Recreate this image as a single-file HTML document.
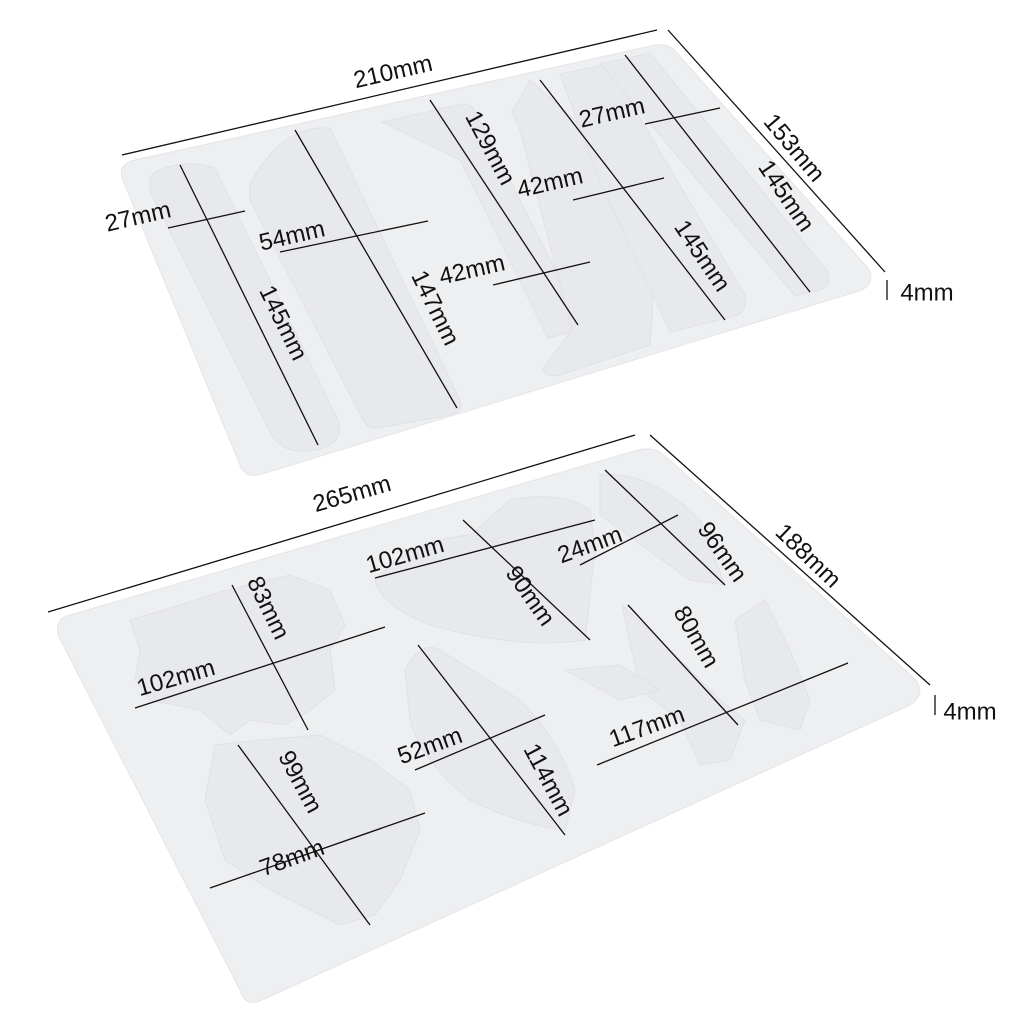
<!DOCTYPE html>
<html><head><meta charset="utf-8"><style>
html,body{margin:0;padding:0;background:#fff;}
svg{display:block}
text{font-family:"Liberation Sans",sans-serif;font-size:24px;fill:#111;text-anchor:middle;dominant-baseline:central;}
</style></head><body>
<svg width="1024" height="1024" viewBox="0 0 1024 1024" xmlns="http://www.w3.org/2000/svg">
<path d="M135,160 L655,45 Q668,43 676,52 L868,268 Q876,282 862,290 L262,474 Q245,479 240,465 L122,178 Q118,164 135,160 Z" fill="#eeeff1" stroke="#e4e5e8"/>
<g fill="#e8e9ec" stroke="#e0e1e4">
<path d="M155,172 Q185,158 215,168 L338,420 Q345,445 315,450 Q282,456 270,432 L152,195 Q146,178 155,172 Z"/>
<path d="M250,185 Q280,125 330,128 L460,400 Q465,412 450,415 L378,428 Q368,430 362,418 L250,200 Z"/>
<path d="M382,122 L462,104 Q470,103 474,110 L580,318 Q583,330 570,332 L548,338 L460,160 Z"/>
<path d="M512,112 L530,80 L625,165 L658,230 L650,345 L560,375 Q545,378 543,368 L572,330 L520,130 Z"/>
<path d="M560,74 L608,64 L745,295 Q748,312 735,316 L670,332 L600,182 Z"/>
<path d="M600,64 L650,53 L828,272 Q832,285 820,290 L795,296 Z"/>
</g>
<path d="M70,615 L638,450 Q655,446 665,456 L916,680 Q926,695 910,705 L262,1000 Q245,1008 240,990 L58,635 Q55,618 70,615 Z" fill="#eeeff1" stroke="#e4e5e8"/>
<g fill="#e8e9ec" stroke="#e0e1e4">
<path d="M130,620 L180,605 L220,592 L290,575 L330,590 L345,625 L330,650 L335,690 L310,710 L285,725 L250,720 L230,735 L200,710 L150,700 L135,680 L140,650 Z"/>
<path d="M375,580 Q410,540 470,535 L510,500 Q560,490 590,510 L595,550 L585,640 Q520,650 430,625 Q380,605 375,580 Z"/>
<path d="M600,475 Q650,470 700,520 L725,585 L690,580 L600,515 Z"/>
<path d="M405,670 Q420,640 440,650 L520,700 Q560,740 575,790 L565,830 Q520,825 470,800 Q420,760 410,720 Z"/>
<path d="M215,745 L260,740 L320,735 L370,760 L410,790 L420,830 L400,880 L375,915 L340,925 L270,890 L225,860 L205,800 Z"/>
<path d="M622,605 L660,640 L720,700 L745,720 L730,760 L700,765 L680,720 L640,690 Z"/>
<path d="M735,620 L765,600 L790,650 L810,700 L800,730 L760,720 L745,680 Z"/>
<path d="M565,670 L620,665 L660,690 L620,700 Z"/>
</g>
<g stroke="#111" stroke-width="1.3" fill="none">
<line x1="122" y1="155" x2="657" y2="30"/>
<line x1="668" y1="30" x2="885" y2="272"/>
<line x1="887" y1="280" x2="887" y2="300"/>
<line x1="180" y1="165" x2="318" y2="445"/>
<line x1="168" y1="228" x2="245" y2="211"/>
<line x1="280" y1="252" x2="428" y2="221"/>
<line x1="295" y1="130" x2="457" y2="408"/>
<line x1="430" y1="100" x2="578" y2="325"/>
<line x1="493" y1="285" x2="590" y2="262"/>
<line x1="573" y1="200" x2="664" y2="178"/>
<line x1="540" y1="80" x2="725" y2="320"/>
<line x1="645" y1="124" x2="720" y2="108"/>
<line x1="625" y1="55" x2="810" y2="292"/>
<line x1="48" y1="612" x2="635" y2="435"/>
<line x1="650" y1="435" x2="930" y2="685"/>
<line x1="935" y1="695" x2="935" y2="715"/>
<line x1="135" y1="708" x2="385" y2="627"/>
<line x1="232" y1="585" x2="308" y2="730"/>
<line x1="238" y1="745" x2="370" y2="925"/>
<line x1="210" y1="888" x2="425" y2="813"/>
<line x1="375" y1="578" x2="595" y2="520"/>
<line x1="463" y1="520" x2="590" y2="640"/>
<line x1="580" y1="565" x2="678" y2="515"/>
<line x1="605" y1="470" x2="725" y2="585"/>
<line x1="628" y1="605" x2="738" y2="725"/>
<line x1="597" y1="765" x2="848" y2="663"/>
<line x1="415" y1="770" x2="545" y2="715"/>
<line x1="418" y1="645" x2="565" y2="835"/>
</g>
<text transform="translate(393,72) rotate(-13)">210mm</text>
<text transform="translate(794,148) rotate(50)">153mm</text>
<text x="927" y="293">4mm</text>
<text transform="translate(138,217) rotate(-13)">27mm</text>
<text transform="translate(283,323) rotate(64)">145mm</text>
<text transform="translate(292,236) rotate(-13)">54mm</text>
<text transform="translate(435,308) rotate(64)">147mm</text>
<text transform="translate(490,148) rotate(62)">129mm</text>
<text transform="translate(472,270) rotate(-13)">42mm</text>
<text transform="translate(550,183) rotate(-13)">42mm</text>
<text transform="translate(702,256) rotate(56)">145mm</text>
<text transform="translate(786,196) rotate(56)">145mm</text>
<text transform="translate(612,113) rotate(-13)">27mm</text>
<text transform="translate(352,494) rotate(-16)">265mm</text>
<text transform="translate(808,556) rotate(44)">188mm</text>
<text x="970" y="712">4mm</text>
<text transform="translate(176,678) rotate(-16)">102mm</text>
<text transform="translate(268,608) rotate(64)">83mm</text>
<text transform="translate(405,555) rotate(-16)">102mm</text>
<text transform="translate(530,596) rotate(55)">90mm</text>
<text transform="translate(590,545) rotate(-20)">24mm</text>
<text transform="translate(722,552) rotate(55)">96mm</text>
<text transform="translate(696,637) rotate(60)">80mm</text>
<text transform="translate(647,727) rotate(-20)">117mm</text>
<text transform="translate(430,746) rotate(-20)">52mm</text>
<text transform="translate(548,780) rotate(62)">114mm</text>
<text transform="translate(300,782) rotate(62)">99mm</text>
<text transform="translate(292,858) rotate(-20)">78mm</text>
</svg>
</body></html>
